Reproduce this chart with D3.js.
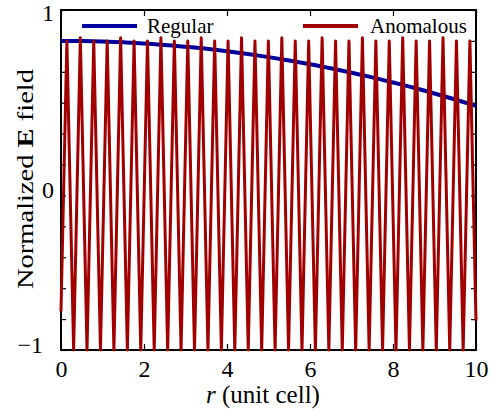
<!DOCTYPE html>
<html>
<head>
<meta charset="utf-8">
<script src="https://cdn.jsdelivr.net/npm/d3@7"></script>
<style>
    body { margin: 0; background: #fff; }
    svg, text { font-family: "Liberation Serif", "Times New Roman", "DejaVu Serif", serif; }
    text { fill: #000; }
</style>
</head>
<body>
<svg id="chart" width="498" height="416"></svg>
<script>
// Regular field - smooth decay
const regularR = [0, 0.5, 1, 1.5, 2, 2.5, 3, 3.5, 4, 4.5, 5, 5.5, 6, 6.5, 7, 7.5, 8, 8.5, 9, 9.5, 10];
const regularE = [1.000, 0.999, 0.996, 0.991, 0.983, 0.974, 0.962, 0.949, 0.933, 0.915, 0.895,
    0.873, 0.849, 0.823, 0.794, 0.764, 0.731, 0.697, 0.660, 0.621, 0.580];

// Anomalous field - peaks and troughs
const anomalousR = [0,
    0.142, 0.304, 0.466, 0.627, 0.789, 0.951, 1.113, 1.275, 1.437, 1.599,
    1.761, 1.922, 2.084, 2.246, 2.408, 2.570, 2.732, 2.893, 3.055, 3.217,
    3.379, 3.541, 3.703, 3.864, 4.026, 4.188, 4.350, 4.512, 4.674, 4.836,
    4.997, 5.159, 5.321, 5.483, 5.645, 5.807, 5.968, 6.130, 6.292, 6.454,
    6.616, 6.778, 6.939, 7.101, 7.263, 7.425, 7.587, 7.749, 7.910, 8.072,
    8.234, 8.396, 8.558, 8.720, 8.881, 9.043, 9.205, 9.367, 9.529, 9.691,
    9.853, 10];
const anomalousE = [-0.75,
    1, -1, 1.02, -1, 1, -1, 1, -1, 1.02, -1,
    1, -1, 1, -1, 1.02, -1, 1, -1, 1, -1,
    1.02, -1, 1, -1, 1, -1, 1.02, -1, 1, -1,
    1, -1, 1.02, -1, 1, -1, 1, -1, 1.02, -1,
    1, -1, 1, -1, 1.02, -1, 1, -1, 1, -1,
    1.02, -1, 1, -1, 1, -1, 1.02, -1, 1, -1,
    1, -0.81];

const seriesNames = ['Regular', 'Anomalous'];
const seriesColors = ['#0000a0', '#a00000'];

const xTicks = [0, 2, 4, 6, 8, 10];
const yTicks = [-1, -0.8, -0.6, -0.4, -0.2, 0, 0.2, 0.4, 0.6, 0.8, 1, 1.2];
const yTickLabels = ['\u22121', '0', '1'];

const plotLeft = 61;
const plotRight = 476;
const plotTop = 10;
const plotBottom = 350;
const serif = '"Liberation Serif", "Times New Roman", serif';

const svg = d3.select('#chart');

const x = d3.scaleLinear().domain([0, 10]).range([plotLeft, plotRight]);
const y = d3.scaleLinear().domain([-1, 1.2]).range([plotBottom, plotTop]);

// axes: ticks point inward on all four sides
const styleAxis = (g) => {
    g.select('.domain').remove();
    g.attr('font-family', serif);
    g.selectAll('.tick line').attr('stroke', '#000').attr('stroke-width', 1.2);
};

svg.append('g')
    .attr('transform', `translate(0,${plotBottom})`)
    .call(d3.axisBottom(x).tickValues(xTicks).tickSize(-6).tickPadding(10).tickFormat(d3.format('d')))
    .call(styleAxis)
    .call(g => g.selectAll('text').style('font-size', '24px').attr('fill', '#000'));

svg.append('g')
    .attr('transform', `translate(0,${plotTop})`)
    .call(d3.axisTop(x).tickValues(xTicks).tickSize(-6).tickFormat(''))
    .call(styleAxis);

svg.append('g')
    .attr('transform', `translate(${plotLeft},0)`)
    .call(d3.axisLeft(y).tickValues(yTicks).tickSize(-5).tickFormat(''))
    .call(styleAxis);

svg.append('g')
    .attr('transform', `translate(${plotRight},0)`)
    .call(d3.axisRight(y).tickValues(yTicks).tickSize(-5).tickFormat(''))
    .call(styleAxis);

// y labels sit a little off their ticks in the original, so place them by hand
const yLabelPos = [
    { x: 43, y: y(-1) + 3 },
    { x: 54, y: y(0) + 3 },
    { x: 54, y: y(1.2) + 11 }
];
svg.append('g').selectAll('text')
    .data(yTickLabels)
    .enter().append('text')
    .attr('x', (d, i) => yLabelPos[i].x)
    .attr('y', (d, i) => yLabelPos[i].y)
    .attr('text-anchor', 'end')
    .style('font-size', '24px')
    .text(d => d);

// frame
svg.append('rect')
    .attr('x', plotLeft)
    .attr('y', plotTop)
    .attr('width', plotRight - plotLeft)
    .attr('height', plotBottom - plotTop)
    .attr('fill', 'none')
    .attr('stroke', '#000')
    .attr('stroke-width', 2);

const regularLine = d3.line()
    .x((d, i) => x(regularR[i]))
    .y(d => y(d))
    .curve(d3.curveMonotoneX);

const anomalousLine = d3.line()
    .x((d, i) => x(anomalousR[i]))
    .y(d => y(d));

svg.append('path')
    .attr('d', regularLine(regularE))
    .attr('fill', 'none')
    .attr('stroke', seriesColors[0])
    .attr('stroke-width', 4);

svg.append('path')
    .attr('d', anomalousLine(anomalousE))
    .attr('fill', 'none')
    .attr('stroke', seriesColors[1])
    .attr('stroke-width', 3)
    .attr('stroke-linejoin', 'round');

// legend, two entries on one row, no frame
const legendX = [82, 303];
const legend = svg.append('g').selectAll('.legend-item')
    .data(seriesNames)
    .enter().append('g')
    .attr('class', 'legend-item')
    .attr('transform', (d, i) => `translate(${legendX[i]},26)`);

legend.append('line')
    .attr('x1', 0)
    .attr('x2', 55)
    .attr('stroke', (d, i) => seriesColors[i])
    .attr('stroke-width', 4);

legend.append('text')
    .attr('x', (d, i) => (i === 0 ? 65 : 67))
    .attr('y', 7)
    .style('font-size', '21px')
    .text(d => d);

// axis titles
const xTitle = svg.append('text')
    .attr('x', 263)
    .attr('y', 403)
    .attr('text-anchor', 'middle')
    .style('font-size', '25px');
xTitle.append('tspan').style('font-style', 'italic').text('r');
xTitle.append('tspan').text(' (unit cell)');

const yTitle = svg.append('text')
    .attr('transform', 'translate(33,179) rotate(-90)')
    .attr('text-anchor', 'middle')
    .attr('textLength', 220)
    .attr('lengthAdjust', 'spacingAndGlyphs')
    .style('font-size', '23px');
yTitle.append('tspan').text('Normalized ');
yTitle.append('tspan').style('font-weight', 'bold').text('E');
yTitle.append('tspan').text(' field');
</script>
</body>
</html>
